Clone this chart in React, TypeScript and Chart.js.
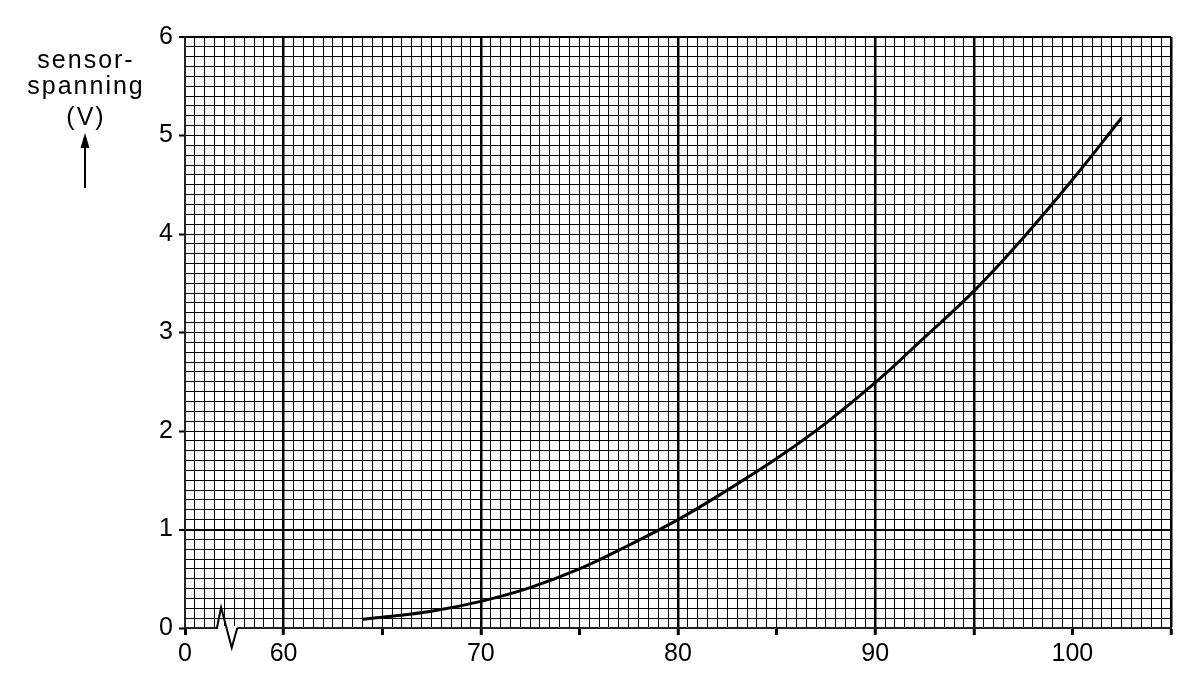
import React, { useEffect, useRef } from 'react';
import { Chart, registerables } from 'chart.js';
import type { ChartConfiguration, Plugin } from 'chart.js';

Chart.register(...registerables);

const FONT = "'Liberation Sans', Arial, sans-serif";

// temperature (x) against sensor voltage (y)
const temperatures = [64, 65, 67.5, 70, 72.5, 75, 77.5, 80, 82.5, 85, 87.5, 90, 92.5, 95, 97.5, 100, 102.5];
const voltages = [0.09, 0.11, 0.17, 0.27, 0.41, 0.6, 0.84, 1.1, 1.4, 1.72, 2.08, 2.49, 2.95, 3.42, 3.96, 4.55, 5.18];

// x axis starts at 55 but is labelled "0" (axis break)
const xTickValues = [55, 60, 70, 80, 90, 100];
const xTickTexts = ['0', '60', '70', '80', '90', '100'];
const yTickValues = [0, 1, 2, 3, 4, 5, 6];

const yTitleLines = ['sensor-', 'spanning', '(V)'];

// graph paper: darker lines
const heavyX = [60, 70, 80, 90, 95, 105];
const heavyY = [1, 6];

const near = (a: number, b: number) => Math.abs(a - b) < 1e-6;

const decorations: Plugin<'line'> = {
  id: 'decorations',
  afterDraw(chart) {
    const { ctx } = chart;
    const xs = chart.scales.x;
    const ys = chart.scales.y;
    ctx.save();

    // zigzag axis break
    const y0 = ys.getPixelForValue(0);
    const bx = [56.62, 56.83, 57.37, 57.65].map(v => xs.getPixelForValue(v));
    const by = [0, 0.21, -0.2, 0].map(v => ys.getPixelForValue(v));
    ctx.fillStyle = '#fff';
    ctx.fillRect(bx[0] + 1, y0 - 2, bx[3] - bx[0] - 1, 4);
    ctx.strokeStyle = '#000';
    ctx.lineWidth = 2;
    ctx.lineJoin = 'miter';
    ctx.beginPath();
    ctx.moveTo(bx[0], by[0]);
    for (let i = 1; i < bx.length; i++) ctx.lineTo(bx[i], by[i]);
    ctx.stroke();

    // axis title with arrow
    ctx.fillStyle = '#000';
    ctx.font = `25px ${FONT}`;
    (ctx as any).letterSpacing = '2px';
    ctx.textAlign = 'center';
    ctx.textBaseline = 'alphabetic';
    const baselines = [60, 86, 117];
    yTitleLines.forEach((t, i) => ctx.fillText(t, 78, baselines[i]));

    ctx.lineWidth = 2;
    ctx.beginPath();
    ctx.moveTo(77, 180);
    ctx.lineTo(77, 136);
    ctx.stroke();
    ctx.beginPath();
    ctx.moveTo(77, 125);
    ctx.lineTo(72.5, 140);
    ctx.lineTo(81.5, 140);
    ctx.closePath();
    ctx.fill();

    ctx.restore();
  },
};

export default function App() {
  const canvasRef = useRef<HTMLCanvasElement>(null);

  useEffect(() => {
    if (!canvasRef.current) return;

    const config: ChartConfiguration<'line'> = {
      type: 'line',
      data: {
        datasets: [
          {
            data: temperatures.map((t, i) => ({ x: t, y: voltages[i] })),
            borderColor: '#000',
            borderWidth: 3,
            pointRadius: 0,
            tension: 0.4,
            fill: false,
          },
        ],
      },
      options: {
        responsive: false,
        animation: false,
        events: [],
        layout: { padding: { top: 29, right: 17, left: 0, bottom: 0 } },
        plugins: {
          legend: { display: false },
          title: { display: false },
          tooltip: { enabled: false },
        },
        scales: {
          x: {
            type: 'linear',
            min: 55,
            max: 105,
            afterFit: scale => {
              scale.height = 40;
            },
            border: { display: true, color: '#222', width: 2 },
            grid: {
              color: '#000',
              lineWidth: c => (heavyX.some(v => near(v, c.tick.value)) ? 2.5 : 1),
              drawTicks: true,
              tickLength: 7,
              tickWidth: 3,
              tickColor: c => (near(c.tick.value % 5, 0) || near(c.tick.value % 5, 5) ? '#000' : 'rgba(0,0,0,0)'),
            },
            ticks: {
              stepSize: 0.5,
              autoSkip: false,
              maxTicksLimit: 1000,
              maxRotation: 0,
              padding: 4,
              color: '#000',
              font: { family: FONT, size: 25 },
              callback: v => {
                const i = xTickValues.findIndex(t => near(t, Number(v)));
                return i >= 0 ? xTickTexts[i] : '';
              },
            },
          },
          y: {
            type: 'linear',
            min: 0,
            max: 6,
            afterFit: scale => {
              scale.width = 177;
            },
            border: { display: true, color: '#222', width: 2 },
            grid: {
              color: '#000',
              lineWidth: c => (heavyY.some(v => near(v, c.tick.value)) ? 2 : 1),
              drawTicks: true,
              tickLength: 6,
              tickWidth: 2,
              tickColor: c => (yTickValues.some(v => near(v, c.tick.value)) ? '#000' : 'rgba(0,0,0,0)'),
            },
            ticks: {
              stepSize: 0.1,
              autoSkip: false,
              maxTicksLimit: 1000,
              padding: 6,
              color: '#000',
              font: { family: FONT, size: 25 },
              callback: v => {
                const n = Number(v);
                return yTickValues.some(t => near(t, n)) ? String(Math.round(n)) : '';
              },
            },
          },
        },
      },
      plugins: [decorations],
    };

    const chart = new Chart(canvasRef.current, config);
    return () => chart.destroy();
  }, []);

  return (
    <div style={{ width: 1180, height: 660, background: '#fff' }}>
      <canvas ref={canvasRef} width={1180} height={660} style={{ display: 'block' }} />
    </div>
  );
}
